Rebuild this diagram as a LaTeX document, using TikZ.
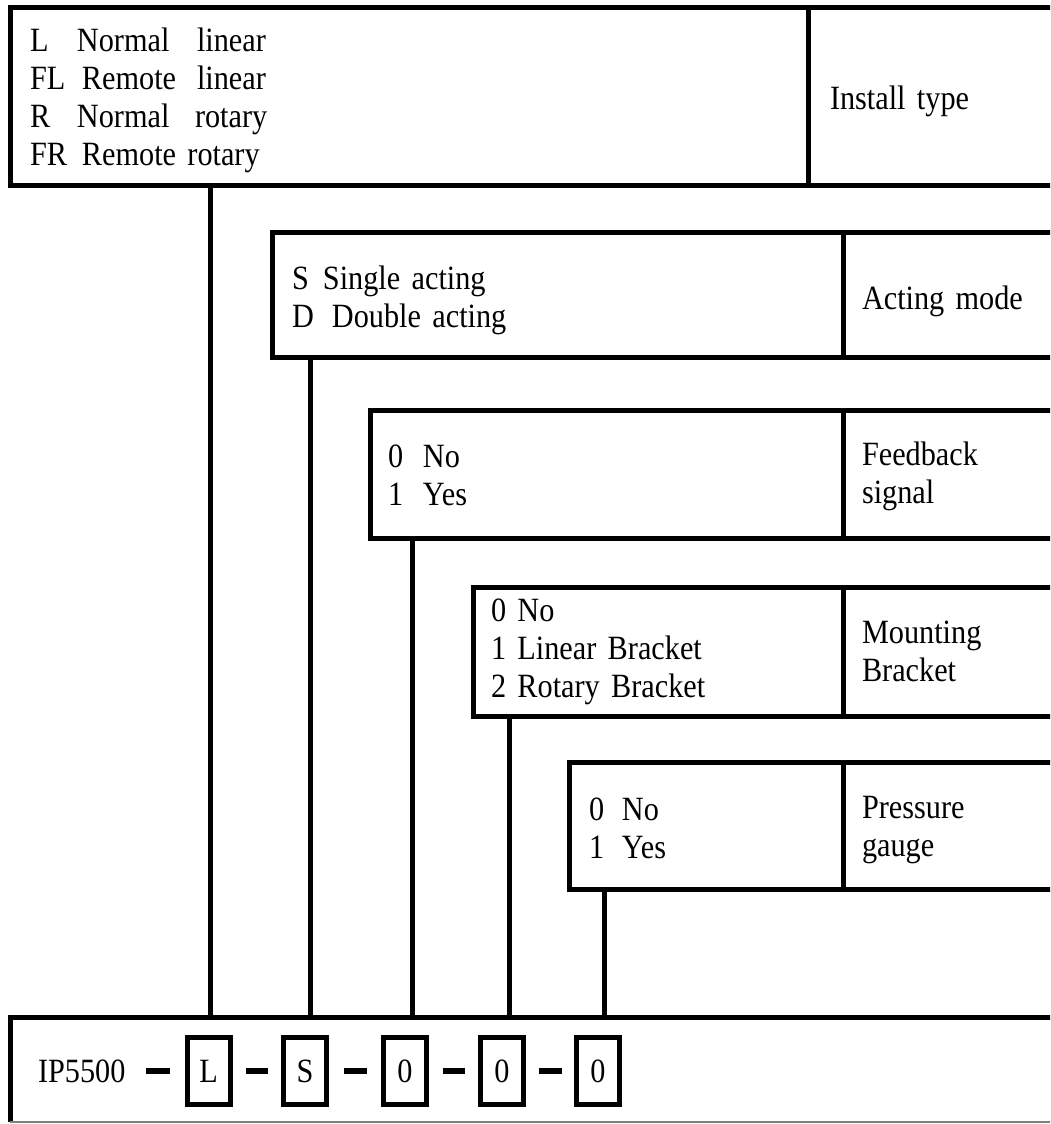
\documentclass[tikz,border=0pt]{standalone}
\usepackage{fontspec}
\setmainfont{Liberation Serif}[FakeStretch=0.89]
\usetikzlibrary{positioning}

\newcommand{\col}[2]{\makebox[#1pt][l]{#2}}

\begin{document}
\begin{tikzpicture}[x=1pt, y=-1pt,
	every node/.style={font=\fontsize{34pt}{38pt}\selectfont, outer sep=0pt},
	frame/.style={draw, line width=5pt},
	opt/.style={frame, anchor=north west, align=left, inner xsep=18pt, inner ysep=0pt,
		minimum width=#1, text width=#1-36pt},
	lbl/.style={frame, anchor=north west, align=left, inner xsep=19pt, inner ysep=0pt,
		minimum width=320pt, text width=282pt},
	drop/.style={execute at begin node={\rule{0pt}{\dimexpr 0.7em+#1\relax}}},
	digit/.style={frame, minimum width=43pt, minimum height=67pt, inner sep=0pt},
	link/.style={line width=5pt},
	bar/.style={line width=6pt}]
\useasboundingbox (0,0) rectangle (1050,1124);
\clip (0,0) rectangle (1050,1124);

\node [opt=798pt, minimum height=177pt, inner xsep=20pt, text width=758pt, drop=8pt] (inst) at (10,8)
	{\col{47}{L}\col{120}{Normal}linear\\
	 \col{52}{FL}\col{115}{Remote}linear\\
	 \col{47}{R}\col{118}{Normal}rotary\\
	 \col{52}{FR}Remote rotary};
\node [lbl, minimum height=177pt, inner xsep=22pt, drop=10pt] (instlbl) at (inst.north east) {Install type};

\node [opt=571pt, minimum height=125pt, inner xsep=20pt, text width=531pt, drop=12pt] (act) at (272,232)
	{\col{31}{S}Single acting\\\col{40}{D}Double acting};
\node [lbl, minimum height=125pt, drop=14pt] (actlbl) at (act.north east) {Acting mode};

\node [opt=473pt, minimum height=128pt, drop=2pt] (fb) at (370,410)
	{\col{35}{0}No\\\col{35}{1}Yes};
\node [lbl, minimum height=128pt, drop=4pt] (fblbl) at (fb.north east) {Feedback\\signal};

\node [opt=370pt, minimum height=129pt] (mnt) at (473,587)
	{0 No\\1 Linear Bracket\\2 Rotary Bracket};
\node [lbl, minimum height=129pt] (mntlbl) at (mnt.north east) {Mounting\\Bracket};

\node [opt=274pt, minimum height=127pt, inner xsep=20pt, text width=234pt, drop=4pt] (gauge) at (569,762)
	{\col{33}{0}No\\\col{33}{1}Yes};
\node [lbl, minimum height=127pt, drop=8pt] (gaugelbl) at (gauge.north east) {Pressure\\gauge};

% order code
\node [anchor=north west, minimum width=1100pt, minimum height=105pt, inner sep=0pt] (code) at (10,1017) {};
\draw [frame] (code.south west) |- (code.north east);
\draw [gray, line width=1.5pt] (code.south west) -- (code.south east);

\node [anchor=west, inner sep=0pt] (ip) at (38,1071) {IP5500};
\node [digit] (cL) at (208.5,1071) {L};
\node [digit] (cS) at (305,1071) {S};
\node [digit] (cF) at (405,1071) {0};
\node [digit] (cM) at (502,1071) {0};
\node [digit] (cG) at (598,1071) {0};

\draw [bar, shorten <=21pt, shorten >=17pt] (ip.east) -- (cL.west);
\draw [bar, shorten <=16pt, shorten >=16pt] (cL.east) -- (cS.west);
\draw [bar, shorten <=17pt, shorten >=17pt] (cS.east) -- (cF.west);
\draw [bar, shorten <=16pt, shorten >=16pt] (cF.east) -- (cM.west);
\draw [bar, shorten <=15pt, shorten >=15pt] (cM.east) -- (cG.west);

\coordinate (pinst)  at (210,1017);
\coordinate (pact)   at (310.5,1017);
\coordinate (pfb)    at (412.5,1017);
\coordinate (pmnt)   at (509,1017);
\coordinate (pgauge) at (604,1017);

\draw [link] (inst.south -| pinst) -- (pinst);
\draw [link] (act.south -| pact) -- (pact);
\draw [link] (fb.south -| pfb) -- (pfb);
\draw [link] (mnt.south -| pmnt) -- (pmnt);
\draw [link] (gauge.south -| pgauge) -- (pgauge);
\end{tikzpicture}
\end{document}
